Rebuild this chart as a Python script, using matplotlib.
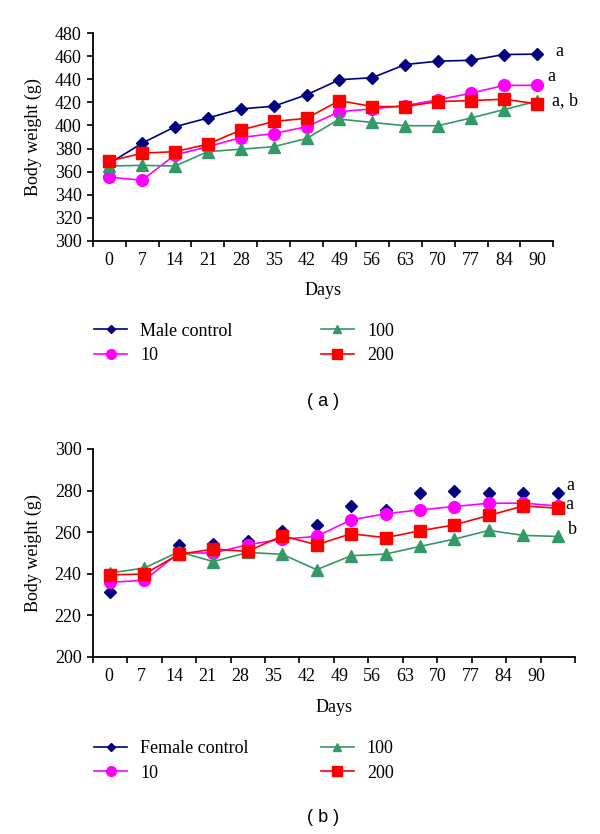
#!/usr/bin/env python

import matplotlib
matplotlib.use("Agg")
import matplotlib.pyplot as plt
import numpy as np
from matplotlib.lines import Line2D

plt.rcParams['font.family'] = ['Liberation Serif', 'DejaVu Serif']

days = ['0', '7', '14', '21', '28', '35', '42', '49', '56', '63', '70', '77', '84', '90']

# (a) males
male_control = [367, 384.6, 398.9, 406.5, 414.4, 416.7, 426.6, 439.7, 441.5, 452.9, 455.8, 456.6, 461.6, 461.9]
male_10 = [355.1, 352.5, 374.4, 381.6, 389.5, 393, 398.9, 412, 414.4, 417.3, 422.3, 428, 434.8, 434.8]
male_100 = [364.8, 365.4, 364.8, 377.3, 379.4, 381.6, 388.7, 405.5, 402.6, 399.8, 399.8, 406.5, 413.8, 421]
male_200 = [369.1, 375.9, 377.3, 383.8, 396, 403.5, 406.2, 421.6, 416.4, 416.4, 420.8, 421.6, 422.8, 418.8]
male_letters = ['a', 'a', 'a, b']
male_letter_y = [464.5, 442.6, 421.6]

# (b) females
female_control = [231, 240, 253.6, 254.4, 255.5, 260.3, 263.5, 272.6, 270.7, 278.7, 280.0, 279.0, 279.0, 278.7]
female_10 = [235.8, 236.8, 250, 249.9, 253.9, 256.6, 257.9, 265.9, 268.8, 270.7, 272.3, 273.9, 273.9, 272.6]
female_100 = [240.3, 242.7, 250.5, 245.8, 250.2, 249.3, 241.9, 248.6, 249.4, 253.1, 256.6, 260.8, 258.4, 257.9]
female_200 = [239.4, 239.8, 249.3, 251.8, 250.7, 258.2, 253.9, 259.2, 257.3, 260.6, 263.5, 268.0, 272.6, 271.5]
female_letters = ['a', 'a', 'b']
female_letter_y = [282.2, 273.1, 261.1]

c_ctrl = '#000080'
c_10 = '#FF00FF'
c_100 = '#339966'
c_200 = '#FF0000'
fs = 13

W, H = 600, 834
fig = plt.figure(figsize=(W / 100, H / 100), dpi=100)

# axes boxes in pixels: left, top, right, bottom
box_a = (92.7, 33.3, 553.3, 240.7)
box_b = (92.7, 449.0, 575.0, 656.7)


def make_ax(box):
    l, t, r, b = box
    return fig.add_axes([l / W, 1 - b / H, (r - l) / W, (b - t) / H])


def style_ax(ax, ylo, yhi):
    n = len(days)
    ax.set_xlim(-0.5, n - 0.5)
    ax.set_ylim(ylo, yhi)
    ax.set_yticks(np.arange(ylo, yhi + 1, 20))
    ax.spines['top'].set_visible(False)
    ax.spines['right'].set_visible(False)
    ax.spines['left'].set_linewidth(1.3)
    ax.spines['bottom'].set_linewidth(1.3)
    ax.set_xticks(np.arange(-0.5, n, 1.0), minor=True)
    ax.tick_params(axis='x', which='minor', length=4, width=1.2, direction='out')
    ax.tick_params(axis='x', which='major', length=0, pad=8, labelsize=fs)
    ax.tick_params(axis='y', length=4, width=1.2, direction='out', pad=4, labelsize=fs)


x = np.arange(len(days))
mk = dict(lw=1.2)

# ---- panel (a)
ax1 = make_ax(box_a)
ax1.plot(x, male_control, marker='D', ms=6.5, color=c_ctrl, **mk)
ax1.plot(x, male_10, marker='o', ms=8.5, color=c_10, **mk)
ax1.plot(x, male_100, marker='^', ms=8, color=c_100, **mk)
ax1.plot(x, male_200, marker='s', ms=8, color=c_200, **mk)
style_ax(ax1, 300, 480)
ax1.set_xticks(x)
ax1.set_xticklabels(days)
for lab, yy, dx in zip(male_letters, male_letter_y, [13.67, 13.44, 13.85]):
    ax1.text(dx, yy, lab, fontsize=fs, ha='center', va='center', clip_on=False)
ax1.text(0.5, -0.241, 'Days', transform=ax1.transAxes, fontsize=fs, ha='center', va='center')

# ---- panel (b)
ax2 = make_ax(box_b)
ax2.plot(x, female_control, marker='D', ms=6.5, color=c_ctrl, ls='none')
ax2.plot(x, female_10, marker='o', ms=8.5, color=c_10, **mk)
ax2.plot(x, female_100, marker='^', ms=8, color=c_100, **mk)
ax2.plot(x, female_200, marker='s', ms=8, color=c_200, **mk)
style_ax(ax2, 200, 300)
# the day labels in (b) keep the spacing of panel (a), as in the source figure
ratio = (box_a[2] - box_a[0]) / (box_b[2] - box_b[0])
ax2.set_xticks(x * ratio - 0.03)
ax2.set_xticklabels(days)
for lab, yy, dx in zip(female_letters, female_letter_y, [13.38, 13.33, 13.42]):
    ax2.text(dx, yy, lab, fontsize=fs, ha='center', va='center', clip_on=False)
ax2.text(0.5, -0.243, 'Days', transform=ax2.transAxes, fontsize=fs, ha='center', va='center')

# y labels
for box in (box_a, box_b):
    fig.text(33 / W, 1 - (box[1] + box[3]) / 2 / H, 'Body weight (g)', rotation=90,
             fontsize=fs, ha='center', va='center')


def legend_handles(first):
    return [Line2D([], [], color=c_ctrl, marker='D', ms=4, lw=1.2, label=first),
            Line2D([], [], color=c_10, marker='o', ms=7, lw=1.2, label='10'),
            Line2D([], [], color=c_100, marker='^', ms=5.5, lw=1.2, label='100'),
            Line2D([], [], color=c_200, marker='s', ms=6.5, lw=1.2, label='200')]


fig.legend(handles=legend_handles('Male control'), loc='upper left',
           bbox_to_anchor=(94 / W, 1 - 322.5 / H), ncol=2, frameon=False, fontsize=fs,
           borderpad=0, borderaxespad=0, handlelength=1.83, handletextpad=0.72,
           columnspacing=4.9, labelspacing=0.43)
fig.legend(handles=legend_handles('Female control'), loc='upper left',
           bbox_to_anchor=(94 / W, 1 - 740 / H), ncol=2, frameon=False, fontsize=fs,
           borderpad=0, borderaxespad=0, handlelength=1.83, handletextpad=0.72,
           columnspacing=4.0, labelspacing=0.43)

fig.text(323 / W, 1 - 401 / H, '( a )', fontsize=13, family='Liberation Sans', ha='center', va='center')
fig.text(323 / W, 1 - 818 / H, '( b )', fontsize=13, family='Liberation Sans', ha='center', va='center')

plt.savefig('out.png', dpi=100)
